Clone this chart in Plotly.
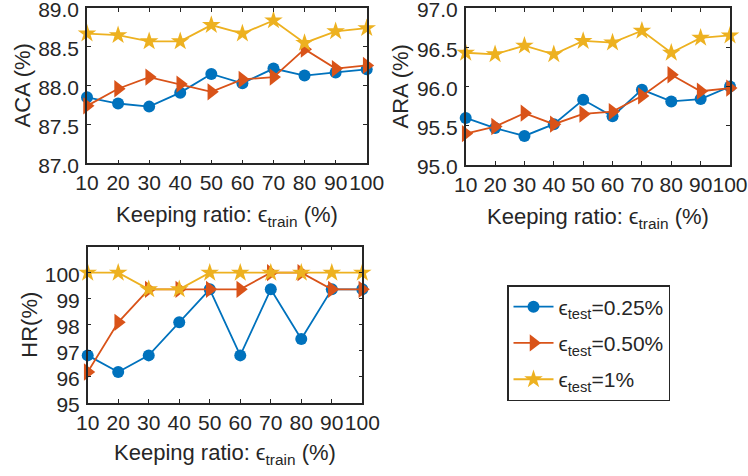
import plotly.graph_objects as go

# ---------------- data ----------------
keep_ratio = [10, 20, 30, 40, 50, 60, 70, 80, 90, 100]

aca_025 = [87.85, 87.77, 87.73, 87.91, 88.15, 88.03, 88.22, 88.13, 88.17, 88.21]
aca_050 = [87.74, 87.96, 88.11, 88.02, 87.92, 88.08, 88.11, 88.47, 88.22, 88.26]
aca_100 = [88.67, 88.65, 88.57, 88.57, 88.78, 88.67, 88.84, 88.55, 88.70, 88.74]

ara_025 = [95.60, 95.47, 95.37, 95.52, 95.83, 95.62, 95.96, 95.81, 95.84, 96.00]
ara_050 = [95.40, 95.49, 95.66, 95.52, 95.65, 95.68, 95.88, 96.15, 95.94, 95.98]
ara_100 = [96.43, 96.41, 96.52, 96.41, 96.58, 96.56, 96.71, 96.43, 96.62, 96.65]

hr_025 = [96.82, 96.18, 96.82, 98.09, 99.36, 96.82, 99.36, 97.45, 99.36, 99.36]
hr_050 = [96.18, 98.09, 99.36, 99.36, 99.36, 99.36, 100.0, 100.0, 99.36, 99.36]
hr_100 = [100.0, 100.0, 99.36, 99.36, 100.0, 100.0, 100.0, 100.0, 100.0, 100.0]

series_names = ["ϵ<sub>test</sub>=0.25%", "ϵ<sub>test</sub>=0.50%", "ϵ<sub>test</sub>=1%"]
x_ticks = [10, 20, 30, 40, 50, 60, 70, 80, 90, 100]
aca_ticks = [87.0, 87.5, 88.0, 88.5, 89.0]
ara_ticks = [95.0, 95.5, 96.0, 96.5, 97.0]
hr_ticks = [95, 96, 97, 98, 99, 100]

# ---------------- style ----------------
W, H = 748, 476
FONT = "Liberation Sans, Arial, Helvetica, sans-serif"
TXT = "#262626"
colors = ["#0072BD", "#D95319", "#EDB120"]
symbols = ["circle", "triangle-right", "star"]
msizes = [12, 15, 14]

fig = go.Figure()

panels = [
    ("x", "y", [aca_025, aca_050, aca_100]),
    ("x2", "y2", [ara_025, ara_050, ara_100]),
    ("x3", "y3", [hr_025, hr_050, hr_100]),
]
for p, (xa, ya, ys) in enumerate(panels):
    for i, yv in enumerate(ys):
        fig.add_trace(go.Scatter(
            x=keep_ratio, y=yv, xaxis=xa, yaxis=ya,
            mode="lines+markers", name=series_names[i],
            legendgroup="g%d" % i,
            line=dict(color=colors[i], width=1.8),
            marker=dict(symbol=symbols[i], size=msizes[i], color=colors[i],
                        line=dict(width=0)),
            cliponaxis=False, showlegend=(p == 0),
        ))

def px_x(v):
    return v / W

def px_y(v):
    return 1 - v / H

axis_common = dict(
    showline=True, linecolor=TXT, linewidth=1.5, mirror="ticks",
    ticks="inside", ticklen=4, tickwidth=1, tickcolor=TXT,
    showgrid=False, zeroline=False, automargin=False,
    ticklabeloverflow="allow",
    tickfont=dict(family=FONT, size=21, color=TXT),
)

def xax(dom, anchor):
    d = dict(axis_common)
    d.update(domain=dom, anchor=anchor, range=[10, 100], tickvals=x_ticks,
             tickangle=0, ticklabelstandoff=0)
    return d

def yax(dom, anchor, rng, tv, fmt):
    d = dict(axis_common)
    d.update(domain=dom, anchor=anchor, range=rng, tickvals=tv,
             tickformat=fmt, ticklabelstandoff=2, ticklabelshift=2)
    return d

fig.update_layout(
    width=W, height=H,
    margin=dict(l=0, r=0, t=0, b=0),
    paper_bgcolor="white", plot_bgcolor="white",
    font=dict(family=FONT, color=TXT, size=21),
    xaxis=xax([px_x(87), px_x(366.7)], "y"),
    yaxis=yax([px_y(163.3), px_y(8)], "x", [87, 89], aca_ticks, ".1f"),
    xaxis2=xax([px_x(465.7), px_x(730)], "y2"),
    yaxis2=yax([px_y(165), px_y(8)], "x2", [95, 97], ara_ticks, ".1f"),
    xaxis3=xax([px_x(87.7), px_x(362.3)], "y3"),
    yaxis3=yax([px_y(402.7), px_y(246.7)], "x3", [95, 101], hr_ticks, "d"),
    legend=dict(
        x=px_x(507), y=px_y(285), xanchor="left", yanchor="top",
        bgcolor="white", bordercolor=TXT, borderwidth=1.5,
        font=dict(family=FONT, size=21, color=TXT),
        itemwidth=40, tracegroupgap=6, traceorder="grouped",
    ),
)

xtitle = "Keeping ratio: ϵ<sub>train</sub> (%)"
annots = [
    (227, 200, xtitle),
    (598, 202, xtitle),
    (225, 438, xtitle),
]
for cx, ty, t in annots:
    fig.add_annotation(x=px_x(cx), y=px_y(ty), xref="paper", yref="paper",
                       text=t, showarrow=False, xanchor="center", yanchor="top",
                       font=dict(family=FONT, size=22, color=TXT))

ytitles = [
    (22, 85.5, "ACA (%)"),
    (400, 86.5, "ARA (%)"),
    (30, 324.7, "HR(%)"),
]
for cx, cy, t in ytitles:
    fig.add_annotation(x=px_x(cx), y=px_y(cy), xref="paper", yref="paper",
                       text=t, showarrow=False, xanchor="center", yanchor="middle",
                       textangle=-90, font=dict(family=FONT, size=22, color=TXT))

fig.write_html("out.html",
               config={"displayModeBar": False},
               post_script="document.body.style.margin='0px';document.body.style.overflow='hidden';")
